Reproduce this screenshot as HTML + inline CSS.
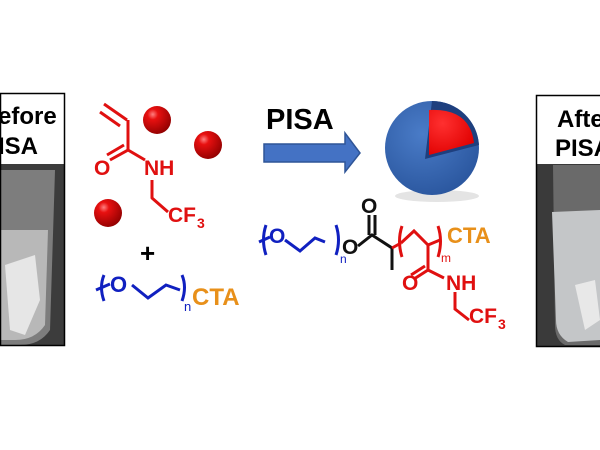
<!DOCTYPE html>
<html><head><style>
html,body{margin:0;padding:0;background:#fff;}
svg{display:block;font-family:"Liberation Sans",Arial,sans-serif;}
</style></head><body>
<svg width="600" height="450" viewBox="0 0 600 450" xmlns="http://www.w3.org/2000/svg">
<defs>
<radialGradient id="rb" cx="0.35" cy="0.3" r="0.75">
<stop offset="0" stop-color="#ff8080"/><stop offset="0.25" stop-color="#e81010"/><stop offset="1" stop-color="#900000"/>
</radialGradient>
<radialGradient id="bl" cx="0.4" cy="0.35" r="0.7">
<stop offset="0" stop-color="#4a7cc8"/><stop offset="1" stop-color="#2a569e"/>
</radialGradient>
<radialGradient id="rc" cx="0.3" cy="0.3" r="0.8">
<stop offset="0" stop-color="#ff3030"/><stop offset="1" stop-color="#e00000"/>
</radialGradient>
</defs>

<!-- left photo -->
<rect x="0" y="93" width="65" height="253" fill="#3c3c3c"/>
<path d="M0 170 L55 170 L50 330 Q40 345 20 345 L0 345 Z" fill="#7d7d7d"/>
<path d="M0 230 L48 230 L45 325 Q35 340 15 340 L0 340 Z" fill="#b8b8b8"/>
<path d="M5 265 L35 255 L40 300 L25 335 L10 330 Z" fill="#e6e6e6"/>
<rect x="0" y="94" width="64" height="70" fill="#fff"/>
<rect x="0.5" y="93.5" width="64" height="252" fill="none" stroke="#000" stroke-width="1.5"/>
<text x="-2" y="124" font-size="24" font-weight="bold">efore</text>
<text x="-2" y="154" font-size="24" font-weight="bold">ISA</text>

<!-- monomer -->
<g stroke="#e01010" stroke-width="3" fill="none" stroke-linejoin="round">
<path d="M104 104 L127 120 M100 112 L120 126"/>
<path d="M128 120 L128 150"/>
<path d="M128 150 L110 160 M124 145 L107 155"/>
<path d="M128 150 L145 160"/>
<path d="M152 180 L152 198 L168 212"/>
</g>
<g fill="#e01010" font-weight="bold">
<text x="94" y="175" font-size="21">O</text>
<text x="144" y="175" font-size="21">NH</text>
<text x="168" y="222" font-size="21">CF</text>
<text x="197" y="228" font-size="14">3</text>
</g>
<circle cx="157" cy="120" r="14" fill="url(#rb)"/>
<circle cx="208" cy="145" r="14" fill="url(#rb)"/>
<circle cx="108" cy="213" r="14" fill="url(#rb)"/>
<text x="140" y="262" font-size="26" font-weight="bold">+</text>

<!-- PEO-CTA -->
<g stroke="#1020c0" stroke-width="3" fill="none">
<path d="M104 275 Q99 287 104 301"/>
<path d="M96 290 L110 284"/>
<path d="M132 285 L148 298 L166 285 L180 290"/>
<path d="M182 275 Q187 287 182 301"/>
</g>
<text x="110" y="292" font-size="22" fill="#1020c0" font-weight="bold">O</text>
<text x="184" y="311" font-size="13" fill="#1020c0">n</text>
<text x="192" y="305" font-size="24" fill="#e8901a" font-weight="bold">CTA</text>

<!-- PISA arrow -->
<text x="266" y="129" font-size="29" font-weight="bold">PISA</text>
<path d="M264 144 L345 144 L345 133 L360 153 L345 172 L345 162 L264 162 Z" fill="#4472c4" stroke="#2f5597" stroke-width="1.5"/>

<!-- micelle -->
<ellipse cx="437" cy="196" rx="42" ry="6" fill="#e4e4e4"/>
<circle cx="432" cy="148" r="47" fill="url(#bl)"/>
<path d="M432 101 L425 159 L479 145 A47 47 0 0 0 432 101 Z" fill="#1e3f7e"/>
<path d="M429 155 L429 110 Q470 108 474 143 Z" fill="url(#rc)"/>

<!-- block copolymer -->
<g stroke="#1020c0" stroke-width="3" fill="none">
<path d="M266 225 Q261 240 266 255"/>
<path d="M259 242 L270 237"/>
<path d="M285 240 L300 251 L315 238 L325 242"/>
<path d="M336 225 Q341 240 336 255"/>
</g>
<text x="269" y="243" font-size="21" fill="#1020c0" font-weight="bold">O</text>
<text x="340" y="263" font-size="12" fill="#1020c0">n</text>
<g stroke="#111" stroke-width="3" fill="none">
<path d="M358 246 L372 235 L392 248 L392 270"/>
<path d="M369 235 L369 215 M375 235 L375 215"/>
</g>
<text x="342" y="254" font-size="21" fill="#111" font-weight="bold">O</text>
<text x="361" y="213" font-size="21" fill="#111" font-weight="bold">O</text>
<g stroke="#e01010" stroke-width="3" fill="none">
<path d="M392 248 L401 243"/>
<path d="M402 226 Q397 241 402 257"/>
<path d="M401 243 L414 231 L428 245 L440 240"/>
<path d="M428 245 L428 270"/>
<path d="M428 270 L414 279 M425 266 L411 275"/>
<path d="M428 270 L444 278"/>
<path d="M455 292 L455 309 L469 320"/>
<path d="M438 226 Q443 241 438 257"/>
</g>
<text x="441" y="262" font-size="12" fill="#e01010">m</text>
<text x="447" y="243" font-size="22" fill="#e8901a" font-weight="bold">CTA</text>
<g fill="#e01010" font-weight="bold">
<text x="402" y="290" font-size="21">O</text>
<text x="446" y="290" font-size="21">NH</text>
<text x="469" y="323" font-size="21">CF</text>
<text x="498" y="329" font-size="14">3</text>
</g>

<!-- right photo -->
<rect x="536" y="95" width="64" height="252" fill="#3a3a3a"/>
<path d="M553 165 L600 165 L600 345 L565 345 Q555 340 555 325 Z" fill="#6a6a6a"/>
<path d="M552 212 L600 210 L600 340 L568 342 Q556 335 556 320 Z" fill="#c4c6c8"/>
<path d="M575 285 L595 280 L600 320 L585 330 Z" fill="#e8e8e8"/>
<rect x="537" y="96" width="63" height="68" fill="#fff"/>
<rect x="536.5" y="95.5" width="70" height="251" fill="none" stroke="#000" stroke-width="1.5"/>
<text x="557" y="127" font-size="24" font-weight="bold">Afte</text>
<text x="555" y="156" font-size="24" font-weight="bold">PISA</text>
</svg>
</body></html>
